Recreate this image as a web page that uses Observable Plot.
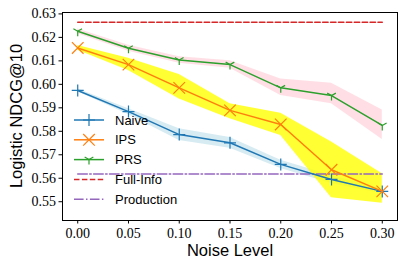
<!DOCTYPE html>
<html><head><meta charset="utf-8">
<script src="https://cdn.jsdelivr.net/npm/d3@7"></script>
<script src="https://cdn.jsdelivr.net/npm/@observablehq/plot@0.6"></script>
<style>html,body{margin:0;padding:0;background:#fff}#chart{width:407px;height:269px}</style>
</head><body><div id="chart"></div>
<script>
// ---- data ----
const noise = [0.00, 0.05, 0.10, 0.15, 0.20, 0.25, 0.30];
const naiveMean = [0.5974, 0.5884, 0.5786, 0.5751, 0.5659, 0.5595, 0.5544];
const naiveLo   = [0.5968, 0.5872, 0.5761, 0.5728, 0.5641, 0.5578, 0.5534];
const naiveHi   = [0.5980, 0.5896, 0.5811, 0.5774, 0.5677, 0.5612, 0.5554];
const ipsMean = [0.6155, 0.6084, 0.5985, 0.5889, 0.5829, 0.5636, 0.5544];
const ipsLo   = [0.6145, 0.6059, 0.5938, 0.5853, 0.5782, 0.5517, 0.5494];
const ipsHi   = [0.6165, 0.6111, 0.6042, 0.5917, 0.5877, 0.5754, 0.5619];
const prsMean = [0.6226, 0.6154, 0.6104, 0.6084, 0.5985, 0.5952, 0.5825];
const prsLo   = [0.6216, 0.6141, 0.6090, 0.6068, 0.5952, 0.5917, 0.5765];
const prsHi   = [0.6236, 0.6167, 0.6118, 0.6100, 0.6023, 0.6005, 0.5891];
const fullInfo = 0.6265;
const production = 0.5618;
const xTicks = [0.00, 0.05, 0.10, 0.15, 0.20, 0.25, 0.30];
const yTicks = [0.55, 0.56, 0.57, 0.58, 0.59, 0.60, 0.61, 0.62, 0.63];
const seriesNames = ["Naive", "IPS", "PRS", "Full-Info", "Production"];
const xLabel = "Noise Level";
const yLabel = "Logistic NDCG@10";

// ---- styles ----
const C = {Naive: "#1f77b4", IPS: "#ff7f0e", PRS: "#2ca02c", "Full-Info": "#d62728", Production: "#9467bd"};
const sans = "Liberation Sans, Arial, sans-serif";
const serif = "Liberation Serif, Times New Roman, serif";

const rad = s => Math.sqrt(s / Math.PI);
const plusSym = {draw(c, s) { const r = rad(s); c.moveTo(-r, 0); c.lineTo(r, 0); c.moveTo(0, -r); c.lineTo(0, r); }};
const timesSym = {draw(c, s) { const r = rad(s); c.moveTo(-r, -r); c.lineTo(r, r); c.moveTo(-r, r); c.lineTo(r, -r); }};
const triSym = {draw(c, s) { const r = rad(s); c.moveTo(0, 0); c.lineTo(0, r); c.moveTo(0, 0); c.lineTo(-0.866 * r, -0.5 * r); c.moveTo(0, 0); c.lineTo(0.866 * r, -0.5 * r); }};

const rows = (mean, lo, hi) => noise.map((x, i) => ({x, y: mean[i], lo: lo[i], hi: hi[i]}));
const naive = rows(naiveMean, naiveLo, naiveHi);
const ips = rows(ipsMean, ipsLo, ipsHi);
const prs = rows(prsMean, prsLo, prsHi);
const flat = v => [{x: noise[0], y: v}, {x: noise[noise.length - 1], y: v}];

const plot = Plot.plot({
  width: 407, height: 269,
  marginLeft: 62, marginRight: 10, marginTop: 12, marginBottom: 49,
  style: {background: "white", color: "black", fontFamily: serif},
  x: {domain: [-0.015, 0.315]},
  y: {domain: [0.5420, 0.6306]},
  marks: [
    Plot.areaY(naive, {x: "x", y1: "lo", y2: "hi", fill: "#add8e6", fillOpacity: 0.5}),
    Plot.areaY(ips, {x: "x", y1: "lo", y2: "hi", fill: "#ffff00", fillOpacity: 0.8}),
    Plot.areaY(prs, {x: "x", y1: "lo", y2: "hi", fill: "#ffc0cb", fillOpacity: 0.5}),
    Plot.line(flat(fullInfo), {x: "x", y: "y", stroke: C["Full-Info"], strokeWidth: 1.5, strokeDasharray: "5.5,2.4"}),
    Plot.line(flat(production), {x: "x", y: "y", stroke: C.Production, strokeWidth: 1.5, strokeDasharray: "9.6,2.4,1.5,2.4"}),
    Plot.line(naive, {x: "x", y: "y", stroke: C.Naive, strokeWidth: 1.5}),
    Plot.dot(naive, {x: "x", y: "y", symbol: plusSym, r: 6, stroke: C.Naive, strokeWidth: 1.2}),
    Plot.line(ips, {x: "x", y: "y", stroke: C.IPS, strokeWidth: 1.5}),
    Plot.dot(ips, {x: "x", y: "y", symbol: timesSym, r: 5.8, stroke: C.IPS, strokeWidth: 1.2}),
    Plot.line(prs, {x: "x", y: "y", stroke: C.PRS, strokeWidth: 1.5}),
    Plot.dot(prs, {x: "x", y: "y", symbol: triSym, r: 5, stroke: C.PRS, strokeWidth: 1.2}),
    Plot.axisX({ticks: xTicks, tickFormat: d3.format(".2f"), tickSize: 3.5, tickPadding: 4, fontSize: 14, fontFamily: serif, label: null}),
    Plot.axisY({ticks: yTicks, tickFormat: d3.format(".2f"), tickSize: 3.5, tickPadding: 3, fontSize: 14, fontFamily: serif, label: null}),
    Plot.frame({stroke: "black", strokeWidth: 1}),
    Plot.text([xLabel], {frameAnchor: "bottom", dy: 30, text: d => d, fontSize: 16.5, fontFamily: sans, lineAnchor: "middle"})
  ]
});
document.getElementById("chart").appendChild(plot);

const svg = d3.select(plot);
// y-axis title, rotated, centred on the frame
svg.append("text")
  .attr("transform", `translate(16,116) rotate(-90)`)
  .attr("text-anchor", "middle").attr("dy", "0.35em")
  .attr("font-family", sans).attr("font-size", 16.5).attr("fill", "black")
  .text(yLabel);

// ---- legend (frameless, inside axes) ----
const syms = {Naive: plusSym, IPS: timesSym, PRS: triSym};
const symR = {Naive: 6, IPS: 5.8, PRS: 5};
const dashes = {"Full-Info": "5.5,2.4", Production: "9.6,2.4,1.5,2.4"};
const lg = svg.append("g").attr("font-family", sans).attr("font-size", 13).attr("text-anchor", "start");
seriesNames.forEach((name, i) => {
  const y = 120 + i * 19.8;
  lg.append("line").attr("x1", 74).attr("x2", 104).attr("y1", y).attr("y2", y)
    .attr("stroke", C[name]).attr("stroke-width", 1.5).attr("stroke-dasharray", dashes[name] || null);
  if (syms[name]) {
    lg.append("path").attr("transform", `translate(89,${y})`)
      .attr("d", d3.symbol(syms[name], Math.PI * symR[name] ** 2)())
      .attr("fill", "none").attr("stroke", C[name]).attr("stroke-width", 1.2);
  }
  lg.append("text").attr("x", 115).attr("y", y).attr("dy", "0.35em").attr("fill", "black").text(name);
});
</script>
</body></html>
